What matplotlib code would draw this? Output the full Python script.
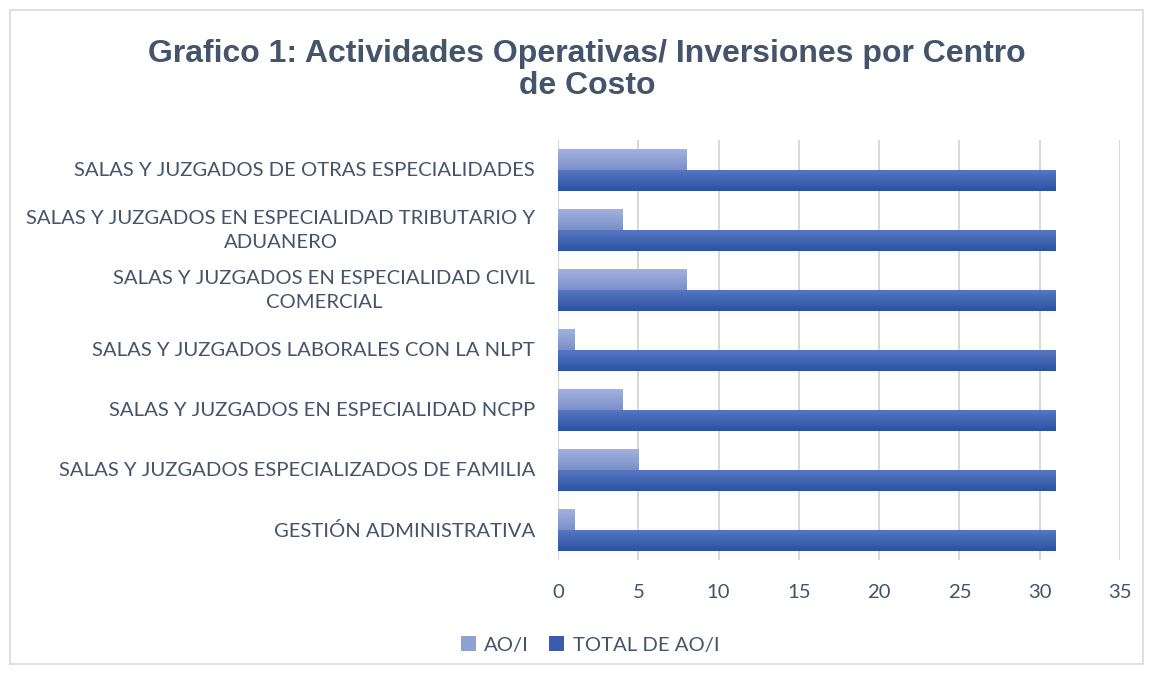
import numpy as np
import matplotlib
matplotlib.use('Agg')
import matplotlib.pyplot as plt
from matplotlib.colors import LinearSegmentedColormap
from matplotlib.patches import Rectangle, Patch

categorias = [
    "SALAS Y JUZGADOS DE OTRAS ESPECIALIDADES",
    "SALAS Y JUZGADOS EN ESPECIALIDAD TRIBUTARIO Y\nADUANERO",
    "SALAS Y JUZGADOS EN ESPECIALIDAD CIVIL\nCOMERCIAL",
    "SALAS Y JUZGADOS LABORALES CON LA NLPT",
    "SALAS Y JUZGADOS EN ESPECIALIDAD NCPP",
    "SALAS Y JUZGADOS ESPECIALIZADOS DE FAMILIA",
    "GESTIÓN ADMINISTRATIVA",
]
ao_i = [8, 4, 8, 1, 4, 5, 1]
total_ao_i = [31, 31, 31, 31, 31, 31, 31]
x_ticks = [0, 5, 10, 15, 20, 25, 30, 35]

text_color = '#44546A'
plt.rcParams['font.family'] = ['Lato', 'DejaVu Sans']

fig = plt.figure(figsize=(11.53, 6.74), dpi=100)
ax = fig.add_axes([558 / 1153, 1 - 560 / 674, (1120 - 558) / 1153, 420 / 674])

# light border around the chart
fig.patches.append(Rectangle((10 / 1153, 10 / 674), 1133 / 1153, 654 / 674,
                             transform=fig.transFigure, fill=False,
                             edgecolor='#D9D9D9', linewidth=1.2))

y = np.arange(len(categorias))
h = 0.35
bars_a = ax.barh(y - h / 2, ao_i, height=h, color='none', zorder=3)
bars_t = ax.barh(y + h / 2, total_ao_i, height=h, color='none', zorder=3)

cmap_a = LinearSegmentedColormap.from_list('a', ['#A2B2DE', '#7C8FC9'])
cmap_t = LinearSegmentedColormap.from_list('t', ['#5676C0', '#2B53A4'])
grad = np.linspace(0, 1, 64).reshape(-1, 1)

for bars, cmap in [(bars_a, cmap_a), (bars_t, cmap_t)]:
    for b in bars:
        x0, y0 = b.get_x(), b.get_y()
        w, hh = b.get_width(), b.get_height()
        im = ax.imshow(grad, cmap=cmap, aspect='auto', origin='upper',
                       extent=(x0, x0 + w, y0 + hh, y0), zorder=3)
        im.set_clip_path(b)

ax.set_xlim(0, 35)
ax.set_ylim(len(categorias) - 0.5, -0.5)
ax.set_xticks(x_ticks)
ax.set_yticks(y)
ax.set_yticklabels([])
ax.tick_params(axis='both', length=0, labelsize=14.6, colors=text_color)
ax.tick_params(axis='x', pad=17)

# category labels drawn as text so the line spacing can be set
for yi, lab in zip(y, categorias):
    ax.annotate(lab, xy=(0, yi), xycoords=('axes fraction', 'data'),
                xytext=(-16.5, -0.7), textcoords='offset points',
                ha='right', va='center', multialignment='center',
                linespacing=1.5, fontsize=14.6, color=text_color)

ax.grid(axis='x', color='#D9D9D9', linewidth=1.5, zorder=0)
for s in ax.spines.values():
    s.set_visible(False)
ax.axvline(0, color='#D9D9D9', linewidth=1.5, zorder=1)

fig.text(587 / 1153, 1 - 70 / 674,
         "Grafico 1: Actividades Operativas/ Inversiones por Centro\nde Costo",
         ha='center', va='center', fontsize=23, fontweight='bold',
         color=text_color, family=['Liberation Sans', 'DejaVu Sans'],
         linespacing=1.12)

handles = [Patch(facecolor='#8FA1D3', label='AO/I'),
           Patch(facecolor='#3A5BAE', label='TOTAL DE AO/I')]
leg = fig.legend(handles=handles, loc='center', bbox_to_anchor=(590 / 1153, 1 - 645 / 674),
                 ncol=2, frameon=False, fontsize=14.6, handlelength=0.75,
                 handleheight=0.75, handletextpad=0.4, columnspacing=1.0)
for t in leg.get_texts():
    t.set_color(text_color)

fig.savefig('out.png', dpi=100)
